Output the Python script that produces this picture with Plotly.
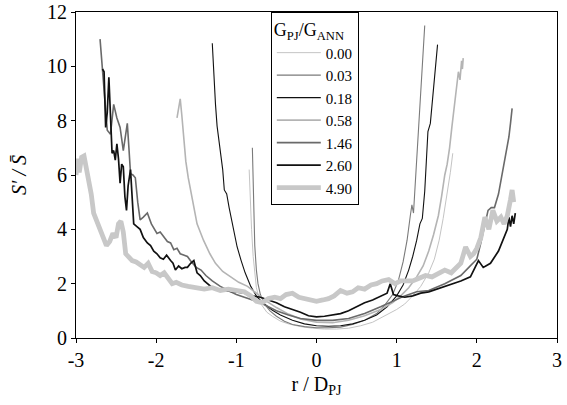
import plotly.graph_objects as go

# ---------------- data ----------------
labels = ["0.00", "0.03", "0.18", "0.58", "1.46", "2.60", "4.90"]

x_000 = [-0.84,-0.83,-0.81,-0.79,-0.77,-0.75,-0.72,-0.68,-0.62,-0.55,-0.45,-0.35,-0.2,-0.05,0.1,0.25,0.4,0.55,0.7,0.85,1.0,1.1,1.2,1.3,1.4,1.47,1.53,1.58,1.63,1.67,1.70]
y_000 = [6.2,5.2,4.0,3.0,2.3,1.85,1.5,1.2,0.95,0.8,0.62,0.52,0.42,0.36,0.33,0.33,0.36,0.45,0.58,0.8,1.05,1.25,1.55,1.9,2.4,2.9,3.6,4.4,5.3,6.1,6.8]

x_003 = [-0.80,-0.79,-0.78,-0.77,-0.75,-0.73,-0.70,-0.65,-0.58,-0.5,-0.4,-0.3,-0.15,0.0,0.15,0.3,0.45,0.6,0.75,0.85,0.95,1.02,1.08,1.13,1.17,1.19,1.21,1.23,1.26,1.29,1.32,1.35]
y_003 = [7.0,5.8,4.5,3.4,2.5,2.0,1.6,1.25,1.0,0.8,0.62,0.5,0.42,0.38,0.38,0.4,0.5,0.65,0.9,1.2,1.6,2.1,2.8,3.6,4.5,4.9,4.6,5.6,7.0,8.5,10.0,11.5]

x_018 = [-1.30,-1.28,-1.26,-1.24,-1.22,-1.20,-1.17,-1.15,-1.12,-1.09,-1.04,-0.99,-0.94,-0.89,-0.82,-0.74,-0.65,-0.55,-0.45,-0.3,-0.15,0.0,0.15,0.3,0.45,0.6,0.75,0.88,1.0,1.08,1.15,1.2,1.25,1.29,1.32,1.35,1.37,1.39,1.42,1.45,1.48,1.51]
y_018 = [10.85,9.6,8.6,7.8,7.3,7.0,6.2,5.45,5.3,4.8,4.0,3.35,2.85,2.4,1.9,1.5,1.25,1.02,0.85,0.65,0.52,0.45,0.43,0.45,0.52,0.65,0.85,1.15,1.55,1.95,2.5,3.0,3.6,4.2,4.4,5.4,6.5,7.6,7.9,8.8,9.8,10.8]

x_058 = [-1.74,-1.72,-1.70,-1.68,-1.66,-1.63,-1.60,-1.55,-1.49,-1.41,-1.33,-1.26,-1.17,-1.07,-0.97,-0.86,-0.75,-0.62,-0.5,-0.35,-0.2,0.0,0.2,0.4,0.6,0.8,0.95,1.05,1.15,1.25,1.33,1.40,1.46,1.52,1.56,1.60,1.63,1.66,1.69,1.72,1.75,1.77,1.79,1.81,1.82,1.83]
y_058 = [8.1,8.5,8.8,8.2,7.5,6.5,5.9,5.1,4.2,3.6,3.1,2.75,2.45,2.25,2.05,1.9,1.65,1.35,1.12,0.88,0.7,0.58,0.56,0.65,0.82,1.05,1.3,1.55,1.85,2.25,2.65,3.2,3.8,4.5,5.2,6.0,6.4,7.0,7.8,8.6,9.3,9.8,9.5,10.2,9.9,10.3]

x_146 = [-2.70,-2.67,-2.64,-2.61,-2.57,-2.53,-2.49,-2.45,-2.41,-2.36,-2.34,-2.32,-2.29,-2.26,-2.23,-2.20,-2.16,-2.11,-2.06,-2.02,-1.99,-1.95,-1.9,-1.86,-1.82,-1.78,-1.74,-1.70,-1.65,-1.61,-1.56,-1.5,-1.44,-1.38,-1.3,-1.2,-1.1,-1.0,-0.9,-0.8,-0.7,-0.6,-0.5,-0.35,-0.2,0.0,0.2,0.4,0.6,0.8,0.95,1.1,1.25,1.4,1.6,1.8,1.9,2.0,2.05,2.1,2.14,2.18,2.22,2.27,2.3,2.34,2.37,2.40,2.42,2.44]
y_146 = [11.0,9.85,8.7,7.65,7.5,8.6,8.1,7.75,6.9,7.9,7.0,6.05,6.0,5.9,5.0,4.35,4.45,4.6,4.2,4.0,3.85,3.9,3.7,3.55,3.5,3.25,3.3,3.1,3.05,3.0,2.8,2.6,2.5,2.3,2.1,1.9,1.75,1.6,1.5,1.4,1.3,1.15,1.0,0.85,0.72,0.65,0.65,0.72,0.9,1.15,1.35,1.55,1.7,1.75,2.0,2.3,2.6,2.9,3.5,4.2,4.7,4.8,4.8,5.3,5.8,6.4,6.9,7.4,7.9,8.45]

x_260 = [-2.67,-2.65,-2.63,-2.61,-2.59,-2.57,-2.55,-2.53,-2.51,-2.49,-2.47,-2.45,-2.43,-2.41,-2.39,-2.37,-2.35,-2.32,-2.30,-2.28,-2.24,-2.20,-2.16,-2.11,-2.07,-2.03,-1.99,-1.95,-1.91,-1.87,-1.82,-1.79,-1.76,-1.72,-1.68,-1.64,-1.61,-1.57,-1.53,-1.49,-1.45,-1.40,-1.36,-1.30,-1.24,-1.18,-1.1,-1.0,-0.9,-0.8,-0.7,-0.6,-0.5,-0.4,-0.3,-0.2,-0.1,0.0,0.1,0.2,0.3,0.4,0.5,0.6,0.7,0.8,0.88,0.92,0.96,1.02,1.1,1.2,1.3,1.4,1.55,1.71,1.80,1.92,2.02,2.08,2.17,2.27,2.33,2.38,2.40,2.42,2.44,2.46,2.48]
y_260 = [9.9,9.8,7.75,8.3,9.6,8.0,6.8,6.9,6.55,7.15,6.6,5.7,6.4,6.3,5.2,4.7,5.6,6.2,5.0,4.2,4.1,4.0,3.7,3.5,3.4,3.2,3.1,2.95,2.9,3.05,2.85,2.75,2.5,2.65,2.55,2.6,2.6,2.75,2.85,2.4,2.3,2.1,2.0,1.85,1.8,1.75,1.72,1.7,1.65,1.55,1.5,1.4,1.3,1.15,1.05,0.95,0.82,0.78,0.8,0.85,0.9,1.0,1.15,1.3,1.4,1.55,1.65,2.0,1.6,1.55,1.5,1.55,1.65,1.7,1.85,2.0,2.1,2.25,2.85,2.6,2.75,3.2,3.6,4.0,4.45,4.1,4.5,4.2,4.6]

x_490 = [-3.0,-2.98,-2.96,-2.93,-2.90,-2.87,-2.84,-2.81,-2.78,-2.74,-2.70,-2.66,-2.62,-2.58,-2.54,-2.50,-2.47,-2.44,-2.41,-2.38,-2.34,-2.30,-2.25,-2.20,-2.15,-2.10,-2.05,-2.0,-1.95,-1.9,-1.85,-1.8,-1.75,-1.68,-1.6,-1.5,-1.4,-1.3,-1.2,-1.1,-1.0,-0.9,-0.82,-0.75,-0.68,-0.6,-0.52,-0.45,-0.38,-0.3,-0.22,-0.15,-0.08,0.0,0.08,0.15,0.22,0.3,0.38,0.45,0.52,0.6,0.68,0.75,0.82,0.9,0.98,1.05,1.12,1.2,1.28,1.36,1.44,1.52,1.6,1.68,1.74,1.8,1.86,1.92,1.96,2.0,2.05,2.1,2.15,2.2,2.25,2.3,2.34,2.38,2.42,2.44,2.46]
y_490 = [6.0,6.6,6.1,6.65,6.7,6.2,5.9,5.3,4.6,4.3,3.9,3.6,3.4,3.55,3.85,3.7,4.2,4.3,3.9,3.1,3.0,2.85,2.8,2.7,2.6,2.75,2.45,2.4,2.3,2.4,2.2,2.0,2.05,1.95,1.9,1.85,1.8,1.85,1.75,1.8,1.75,1.7,1.55,1.35,1.3,1.45,1.5,1.45,1.6,1.65,1.5,1.45,1.4,1.35,1.4,1.45,1.55,1.75,1.65,1.7,1.85,1.8,1.95,2.0,2.1,2.15,2.0,2.1,2.1,2.1,2.2,2.3,2.25,2.4,2.5,2.4,2.6,2.75,3.35,3.0,3.1,3.3,3.7,4.45,4.0,4.7,4.3,4.45,4.2,4.5,5.1,5.45,5.0]

x_ticks = [-3, -2, -1, 0, 1, 2, 3]
x_ticktext = ["-3", "-2", "-1", "0", "1", "2", "3"]
y_ticks = [0, 2, 4, 6, 8, 10, 12]

series_x = [x_000, x_003, x_018, x_058, x_146, x_260, x_490]
series_y = [y_000, y_003, y_018, y_058, y_146, y_260, y_490]

# ---------------- styles ----------------
colors = ["#c4c4c4", "#7a7a7a", "#111111", "#b4b4b4", "#6a6a6a", "#111111", "#c8c8c8"]
widths = [1.0, 1.1, 1.1, 1.6, 1.6, 1.7, 4.8]

FONT = "Liberation Serif"

fig = go.Figure()
for lab, xs, ys, c, w in zip(labels, series_x, series_y, colors, widths):
    fig.add_trace(go.Scatter(x=xs, y=ys, mode="lines", name=lab,
                             line=dict(color=c, width=w)))

fig.update_layout(
    width=567, height=405,
    margin=dict(l=76, r=10, t=12, b=67, autoexpand=False),
    paper_bgcolor="white", plot_bgcolor="white",
    font=dict(family=FONT, size=20, color="black"),
    showlegend=True,
    legend=dict(
        title=dict(text="G<sub>PJ</sub>/G<sub>ANN</sub>", font=dict(size=18, family=FONT)),
        x=0.405, y=1.0, xanchor="left", yanchor="top",
        bgcolor="white", bordercolor="black", borderwidth=1,
        font=dict(size=15, family=FONT), traceorder="normal",
        itemwidth=44,
    ),
    xaxis=dict(
        range=[-3, 3], tickvals=x_ticks, ticktext=x_ticktext,
        showgrid=False, zeroline=False,
        showline=True, linecolor="black", linewidth=1.2, mirror=True,
        ticks="outside", ticklen=4, tickcolor="black",
        tickfont=dict(size=20, family=FONT),
        title=dict(text="r / D<sub>PJ</sub>", font=dict(size=20, family=FONT), standoff=6),
        automargin=False,
    ),
    yaxis=dict(
        range=[0, 12], tickvals=y_ticks,
        showgrid=False, zeroline=False,
        showline=True, linecolor="black", linewidth=1.2, mirror=True,
        ticks="outside", ticklen=4, tickcolor="black",
        tickfont=dict(size=20, family=FONT),
        title=dict(text="<i>S′ / S̄</i>", font=dict(size=20, family=FONT), standoff=14),
        automargin=False,
    ),
)

fig.write_html("out.html", config={"displayModeBar": False},
               post_script="document.body.style.margin='0';document.body.style.overflow='hidden';")
